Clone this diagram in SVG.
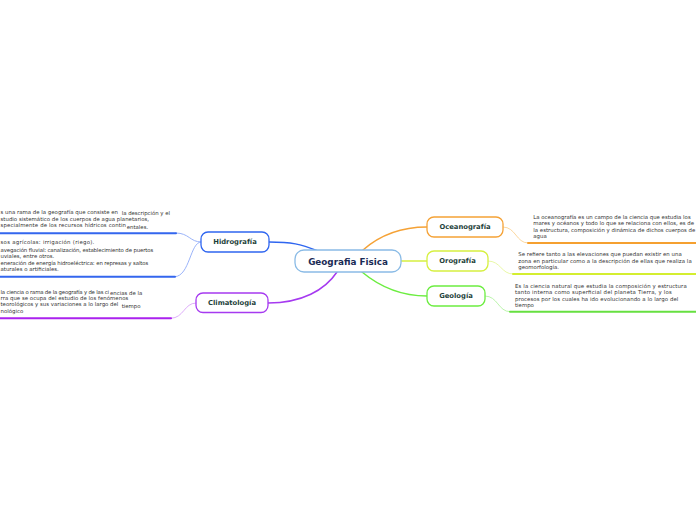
<svg xmlns="http://www.w3.org/2000/svg" width="696" height="520" viewBox="0 0 696 520">
<style>
.node rect{fill:#ffffff;stroke-width:1.3}
.ntext{font-family:"DejaVu Sans",Verdana,sans-serif;font-weight:bold;font-size:6.8px;fill:#1d3f3a;text-anchor:middle}
.ctext{font-family:"DejaVu Sans",Verdana,sans-serif;font-weight:bold;font-size:8.8px;fill:#1a2b55;text-anchor:middle}
.note{font-family:"DejaVu Sans",Verdana,sans-serif;font-size:5.4px;fill:#333333}
.conn path{fill:none;stroke-linecap:round}
</style>
<rect width="696" height="520" fill="#ffffff"/>
<g id="connectors" class="conn">
<path d="M318,251 C300,244 292,242 269,242" stroke="#2f66f0" stroke-width="1.5"/>
<path d="M337,272 C325,290 302,303 268,303" stroke="#a63af0" stroke-width="1.5"/>
<path d="M363,250 C380,235 402,227 427,227" stroke="#f5a236" stroke-width="1.5"/>
<path d="M401,261 L427,261" stroke="#d6f040" stroke-width="1.3"/>
<path d="M362,272 C380,287 402,296 427,296" stroke="#6ced40" stroke-width="1.5"/>
<path d="M201,242 C190,242 189,233 176,233" stroke="#8eaaf8" stroke-width="0.9"/>
<path d="M201,242 C190,242 190,276 175,276.7" stroke="#8eaaf8" stroke-width="0.9"/>
<path d="M196,303 C184,303 184,318 171,318.3" stroke="#d9a4f8" stroke-width="0.9"/>
<path d="M503,227 C516,227 516,243 528,243" stroke="#fbd294" stroke-width="0.9"/>
<path d="M488,261 C501,261 501,274 513,274" stroke="#e6f79c" stroke-width="0.9"/>
<path d="M485,296 C498,296 498,311.7 510,311.7" stroke="#b3f3a2" stroke-width="0.9"/>
<path d="M0,233.3 L176,233.3" stroke="#3366ee" stroke-width="2"/>
<path d="M0,276.7 L175,276.7" stroke="#3366ee" stroke-width="2"/>
<path d="M0,318.3 L171,318.3" stroke="#aa22ee" stroke-width="2"/>
<path d="M528,243 L696,243" stroke="#f5a030" stroke-width="2"/>
<path d="M513,274 L696,274" stroke="#d4ee30" stroke-width="2"/>
<path d="M510,311.7 L696,311.7" stroke="#66e040" stroke-width="2"/>
</g>
<g id="center" class="node">
<rect x="295" y="250" width="106" height="22" rx="9" stroke="#8abbe6" stroke-width="1.5"/>
<text class="ctext" x="348" y="264.7">Geografia Fisica</text>
</g>
<g id="hidrografia" class="node">
<rect x="201" y="232" width="68" height="20" rx="7" stroke="#2f66f0"/>
<text class="ntext" x="235" y="244.4">Hidrografía</text>
</g>
<g id="climatologia" class="node">
<rect x="196" y="293" width="72" height="19.5" rx="7" stroke="#a63af0"/>
<text class="ntext" x="232" y="305.2">Climatología</text>
</g>
<g id="oceanografia" class="node">
<rect x="427" y="217" width="76" height="20" rx="7" stroke="#f5a236"/>
<text class="ntext" x="465" y="229.4">Oceanografía</text>
</g>
<g id="orografia" class="node">
<rect x="427" y="251" width="61" height="20" rx="7" stroke="#d6f040"/>
<text class="ntext" x="457.5" y="263.4">Orografía</text>
</g>
<g id="geologia" class="node">
<rect x="427" y="286" width="58" height="20" rx="7" stroke="#6ced40"/>
<text class="ntext" x="456" y="298.4">Geología</text>
</g>
<g id="note-hidrografia-1">
<text class="note" x="0.5" y="213.6" textLength="117.5">s una rama de la geografía que consiste en</text>
<text class="note" x="121.7" y="214.6" textLength="48.3">la descripción y el</text>
<text class="note" x="0.5" y="220.6" textLength="148.5">studio sistemático de los cuerpos de agua planetarios,</text>
<text class="note" x="0.5" y="227.2" textLength="125.5">specialmente de los recursos hídricos contin</text>
<text class="note" x="126.7" y="228.6">entales.</text>
</g>
<g id="note-hidrografia-2">
<text class="note" x="0.5" y="244" textLength="93.8">sos agrícolas: irrigación (riego).</text>
<text class="note" x="0.5" y="252.3" textLength="152.8">avegación fluvial: canalización, establecimiento de puertos</text>
<text class="note" x="0.5" y="258.3">uviales, entre otros.</text>
<text class="note" x="0.5" y="265" textLength="147.8">eneración de energía hidroeléctrica: en represas y saltos</text>
<text class="note" x="0.5" y="271.4">aturales o artificiales.</text>
</g>
<g id="note-climatologia">
<text class="note" x="0.5" y="294" textLength="108.5">la ciencia o rama de la geografía y de las ci</text>
<text class="note" x="110" y="295.3">encias de la</text>
<text class="note" x="0.5" y="300.2" textLength="127.8">rra que se ocupa del estudio de los fenómenos</text>
<text class="note" x="0.5" y="306.4" textLength="117.8">teorológicos y sus variaciones a lo largo del</text>
<text class="note" x="121.7" y="307.8">tiempo</text>
<text class="note" x="0.5" y="313">nológico</text>
</g>
<g id="note-oceanografia">
<text class="note" x="533.3" y="219" textLength="157.4">La oceanografía es un campo de la ciencia que estudia los</text>
<text class="note" x="533.3" y="225.4">mares y océanos y todo lo que se relaciona con ellos, es de</text>
<text class="note" x="533.3" y="231.6">la estructura, composición y dinámica de dichos cuerpos de</text>
<text class="note" x="533.3" y="238">agua</text>
</g>
<g id="note-orografia">
<text class="note" x="518.3" y="256.3" textLength="163.4">Se refiere tanto a las elevaciones que puedan existir en una</text>
<text class="note" x="518.3" y="262.7" textLength="173.4">zona en particular como a la descripción de ellas que realiza la</text>
<text class="note" x="518.3" y="269.3">geomorfología.</text>
</g>
<g id="note-geologia">
<text class="note" x="515" y="287.6" textLength="171.7">Es la ciencia natural que estudia la composición y estructura</text>
<text class="note" x="515" y="294" textLength="156.7">tanto interna como superficial del planeta Tierra, y los</text>
<text class="note" x="515" y="300.6" textLength="163.3">procesos por los cuales ha ido evolucionando a lo largo del</text>
<text class="note" x="515" y="307.2">tiempo</text>
</g>
</svg>
